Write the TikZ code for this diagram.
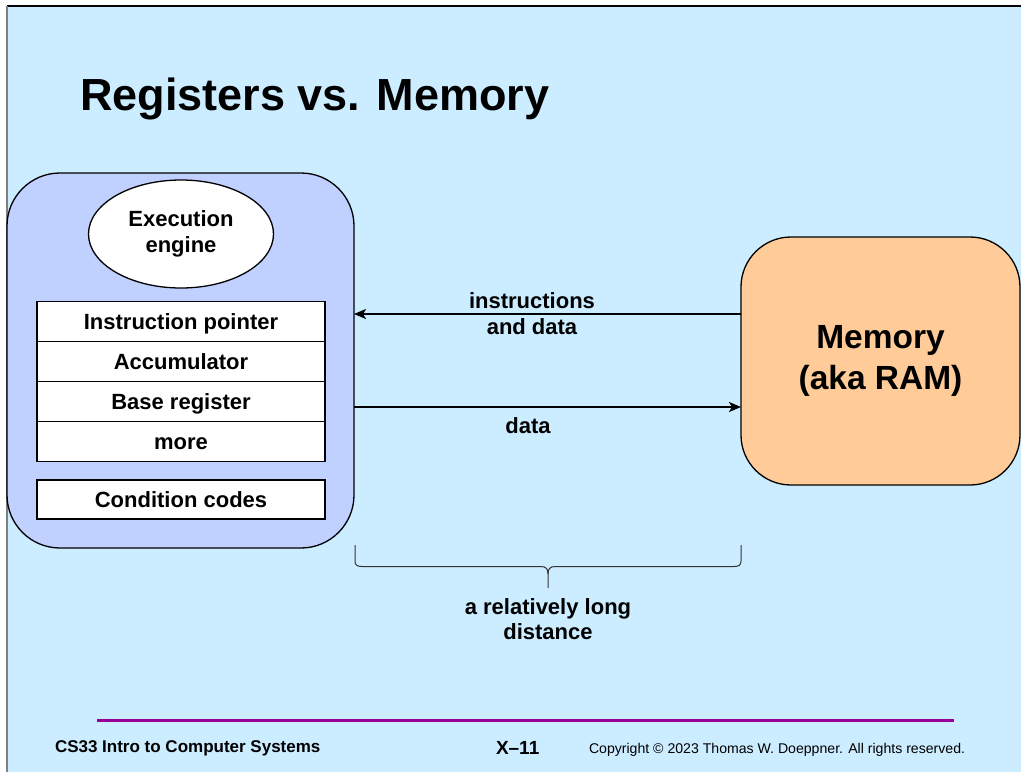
\documentclass[tikz,border=0pt]{standalone}
\usepackage{fontspec}
\setmainfont{Liberation Sans}
\usetikzlibrary{shapes.geometric,arrows.meta,calc}
\definecolor{slidebg}{RGB}{204,236,255}
\definecolor{cpufill}{RGB}{192,208,255}
\definecolor{memfill}{RGB}{255,204,153}
\definecolor{rulepurple}{RGB}{153,0,153}
\begin{document}
\begin{tikzpicture}[x=1pt,y=-1pt,
  every node/.style={inner sep=0pt, outer sep=0pt},
  lbl/.style={font=\fontsize{22}{26}\selectfont\bfseries, align=center},
  cpubox/.style={draw=black, line width=1.3pt, fill=cpufill, rounded corners=53pt},
  membox/.style={draw=black, line width=1.3pt, fill=memfill, rounded corners=50pt},
  regbox/.style={draw=black, line width=1.2pt, fill=white, minimum width=288pt,
    text height=16pt, text depth=0pt, font=\fontsize{22}{26}\selectfont\bfseries},
  execell/.style={ellipse, draw=black, line width=1.3pt, fill=white,
    minimum width=185pt, minimum height=108pt, font=\fontsize{22}{26}\selectfont\bfseries, align=center},
  conn/.style={line width=2pt, -{Stealth[length=12pt,width=10pt,inset=3pt]}},
  bracestyle/.style={line width=1pt, draw=black!80},
  footrule/.style={line width=3pt, draw=rulepurple}
]
\useasboundingbox (0,0) rectangle (1021,772);
\fill[white] (0,0) rectangle (1021,772);
\fill[slidebg] (7,6) rectangle (1021,772);
\draw[black, line width=2pt] (7,6) -- (1021,6);
\draw[gray, line width=1.5pt] (7,6) -- (7,772);

\node[anchor=base west, font=\fontsize{45}{54}\selectfont\bfseries] (title) at (80,110) {Registers vs. Memory};

% CPU
\node[cpubox, minimum width=347pt, minimum height=375pt] (cpu) at (180.5,360.5) {};
\node[execell] (exec) at (181,234) {Execution\\engine};
\node[regbox, minimum height=40pt] (ip) at (181,321.5) {Instruction pointer};
\node[regbox, minimum height=40pt] (acc) at (181,361.5) {Accumulator};
\node[regbox, minimum height=40pt] (base) at (181,401.5) {Base register};
\node[regbox, minimum height=40pt] (more) at (181,441.5) {more};
\node[regbox, minimum height=39pt] (cc) at (181,499.5) {Condition codes};

% Memory
\node[membox, minimum width=279pt, minimum height=248pt,
  font=\fontsize{33.5}{41}\selectfont\bfseries, align=center] (mem) at (880.5,361) {Memory\\(aka RAM)};

% connectors
\coordinate (ia) at ($(mem.west)+(0,-47)$);
\coordinate (da) at ($(cpu.east)+(0,46.5)$);
\draw[conn] (ia) -- (cpu.east |- ia);
\draw[conn] (da) -- (mem.west |- da);
\node[lbl, anchor=base] (l1) at (532,308) {instructions};
\node[lbl, anchor=base] (l2) at (532,334) {and data};
\node[lbl, anchor=base] (l3) at (528,433) {data};

% brace
\draw[bracestyle] (355,545) -- (355,561) .. controls (355,565) and (357,566.5) .. (362,566.5)
  -- (541,566.5) .. controls (546,566.5) and (548,569) .. (548,574) -- (548,588);
\draw[bracestyle] (741,545) -- (741,561) .. controls (741,565) and (739,566.5) .. (734,566.5)
  -- (555,566.5) .. controls (550,566.5) and (548,569) .. (548,574);
\node[lbl, anchor=base] (dist1) at (548,614) {a relatively long};
\node[lbl, anchor=base] (dist2) at (548,639) {distance};

% footer
\draw[footrule] (97,720) -- (954,720);
\node[anchor=base west, font=\bfseries\fontsize{17}{20}\selectfont] (f1) at (55,752) {CS33 Intro to Computer Systems};
\node[anchor=base west, font=\bfseries\fontsize{19}{22}\selectfont] (f2) at (496,754) {X–11};
\node[anchor=base west, font=\fontsize{14.1}{17}\selectfont] (f3) at (589,753) {Copyright © 2023 Thomas W. Doeppner. All rights reserved.};
\end{tikzpicture}
\end{document}
